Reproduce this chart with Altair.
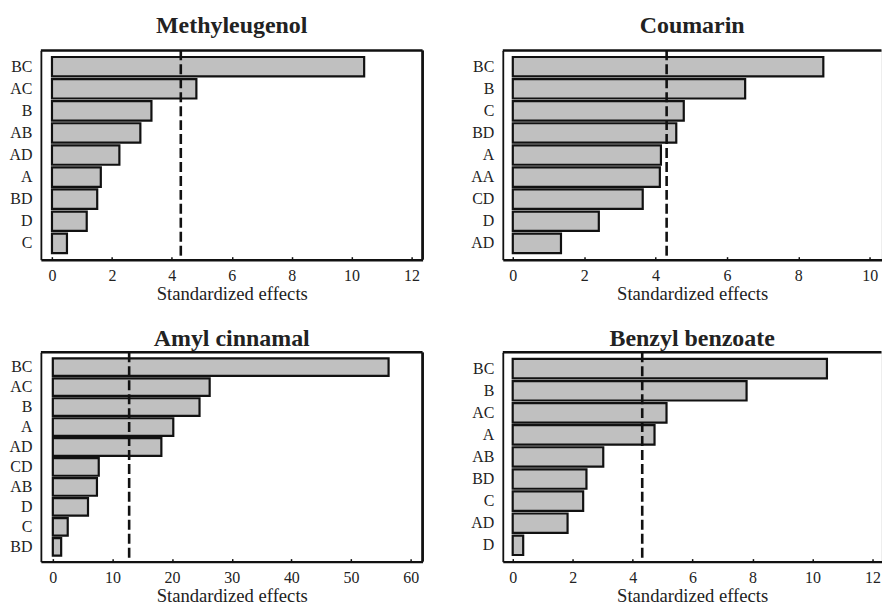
import altair as alt
import pandas as pd

# ---- data ----
meth_terms = ["BC", "AC", "B", "AB", "AD", "A", "BD", "D", "C"]
meth_vals = [10.42, 4.82, 3.32, 2.95, 2.25, 1.63, 1.51, 1.16, 0.5]
meth_crit = 4.3

cou_terms = ["BC", "B", "C", "BD", "A", "AA", "CD", "D", "AD"]
cou_vals = [8.70, 6.51, 4.79, 4.58, 4.15, 4.12, 3.64, 2.41, 1.35]
cou_crit = 4.31

amyl_terms = ["BC", "AC", "B", "A", "AD", "CD", "AB", "D", "C", "BD"]
amyl_vals = [56.3, 26.3, 24.6, 20.2, 18.2, 7.7, 7.4, 5.9, 2.5, 1.4]
amyl_crit = 12.8

benz_terms = ["BC", "B", "AC", "A", "AB", "BD", "C", "AD", "D"]
benz_vals = [10.48, 7.80, 5.13, 4.73, 3.02, 2.46, 2.35, 1.83, 0.35]
benz_crit = 4.32

ticks_12 = [i * 0.5 for i in range(0, 25)]
ticks_10 = [i * 0.5 for i in range(0, 21)]
ticks_60 = [0, 10, 20, 30, 40, 50, 60]

FONT = "Liberation Serif"
H = 210


def panel(title, terms, vals, crit, domain, tick_vals, label_step, width,
          title_offset, right_border):
    df = pd.DataFrame({"term": terms, "effect": vals})
    xscale = alt.Scale(domain=domain, nice=False, zero=False)
    xaxis = alt.Axis(
        values=tick_vals,
        labelExpr=f"datum.value % {label_step} == 0 ? datum.label : ''",
        tickSize={"expr": "-3"},
        tickWidth=1.5,
        tickColor="#111",
        labelPadding=11,
        labelFontSize=16,
        labelFont=FONT,
        labelColor="#222",
        titleFontSize=18.7,
        titleFont=FONT,
        titleFontWeight="normal",
        titleColor="#222",
        titlePadding=1,
        domainColor="#111",
        domainWidth=2.5,
        grid=False,
        labelOverlap=False,
    )
    bars = alt.Chart(df).mark_bar(
        fill="#c0c0c0", stroke="#111", strokeWidth=2.2
    ).encode(
        x=alt.X("effect:Q", scale=xscale, axis=xaxis, title="Standardized effects"),
        x2=alt.datum(0),
        y=alt.Y(
            "term:N",
            sort=terms,
            scale=alt.Scale(paddingInner=0.12, paddingOuter=0.3),
            axis=alt.Axis(
                title=None, ticks=False, labelFontSize=16, labelFont=FONT,
                labelColor="#222", labelPadding=9, domainColor="#111",
                domainWidth=1.8, grid=False,
            ),
        ),
    )
    crit_df = pd.DataFrame({"crit": [crit]})
    rule = alt.Chart(crit_df).mark_rule(
        strokeDash=[10, 4], strokeWidth=2.6, color="#111"
    ).encode(x=alt.X("crit:Q", scale=xscale, title="Standardized effects"))
    top = alt.Chart(crit_df).mark_rule(color="#111", strokeWidth=2.5).encode(
        x=alt.value(0), x2=alt.value(width), y=alt.value(0)
    )
    layers = [bars, rule, top]
    if right_border:
        right = alt.Chart(crit_df).mark_rule(color="#111", strokeWidth=2.8).encode(
            x=alt.value(width), y=alt.value(0), y2=alt.value(H)
        )
        layers.append(right)
    return alt.layer(*layers).properties(
        width=width,
        height=H,
        title=alt.TitleParams(
            title, fontSize=24, font=FONT, fontWeight="bold", color="#222",
            offset=title_offset, anchor="middle",
        ),
    )


p1 = panel("Methyleugenol", meth_terms, meth_vals, meth_crit, [-0.37, 12.37],
           ticks_12, 2, 383, 11, True)
p2 = panel("Coumarin", cou_terms, cou_vals, cou_crit, [-0.28, 10.33],
           ticks_10, 2, 380, 11, False)
p3 = panel("Amyl cinnamal", amyl_terms, amyl_vals, amyl_crit, [-2.0, 62.0],
           ticks_60, 10, 383, 0, True)
p4 = panel("Benzyl benzoate", benz_terms, benz_vals, benz_crit, [-0.33, 12.3],
           ticks_12, 2, 380, 0, False)

row1 = alt.hconcat(p1, p2, spacing=45.5)
row2 = alt.hconcat(p3, p4, spacing=45.5)
chart = alt.vconcat(row1, row2, spacing=22).properties(
    padding={"left": 0, "top": 4.5, "right": -2, "bottom": 0}
).configure_view(stroke=None).configure(background="white")

chart.save("out.html", embed_options={"renderer": "svg", "actions": False})
